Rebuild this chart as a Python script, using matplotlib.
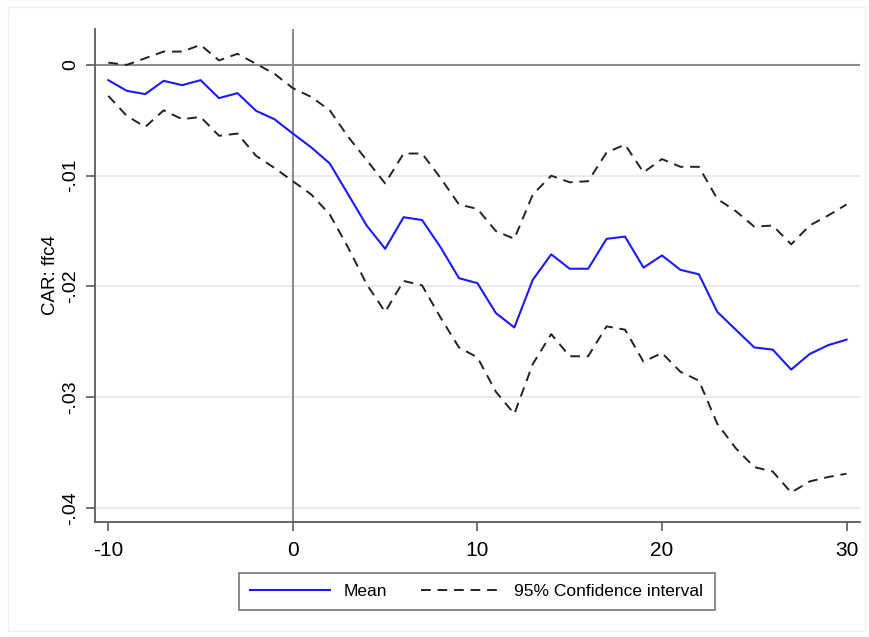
import matplotlib
matplotlib.use("Agg")
import matplotlib.pyplot as plt
from matplotlib.patches import Rectangle
import numpy as np

plt.rcParams["font.family"] = ["Liberation Sans", "DejaVu Sans"]

# event window and cumulative abnormal returns
days = np.arange(-10, 31)
car_mean = [-0.00138, -0.00234, -0.00264, -0.00144, -0.00183, -0.00138, -0.0030, -0.00255,
            -0.00414, -0.0049, -0.0062, -0.00745, -0.0089, -0.0117, -0.0145, -0.0166,
            -0.01375, -0.0140, -0.01645, -0.01925, -0.0197, -0.0224, -0.0237, -0.0194,
            -0.0171, -0.0184, -0.0184, -0.0157, -0.0155, -0.0183, -0.0172, -0.0185,
            -0.0189, -0.0223, -0.0239, -0.0255, -0.0257, -0.0275, -0.0261, -0.0253, -0.0248]
ci_upper = [0.0002, 0.0, 0.0006, 0.0012, 0.0012, 0.0018, 0.0004, 0.0010, 0.0001, -0.0008,
            -0.0021, -0.0029, -0.0041, -0.0065, -0.0086, -0.0107, -0.0080, -0.0080, -0.0102,
            -0.0126, -0.0130, -0.0150, -0.0157, -0.0117, -0.0100, -0.0106, -0.0105, -0.0079,
            -0.0072, -0.0097, -0.0085, -0.0092, -0.0092, -0.0121, -0.0132, -0.0146, -0.0145,
            -0.0162, -0.0145, -0.0136, -0.0126]
ci_lower = [-0.0028, -0.0046, -0.0056, -0.0041, -0.0049, -0.0047, -0.0064, -0.0062, -0.0082,
            -0.0093, -0.0105, -0.0117, -0.0135, -0.0165, -0.0198, -0.0223, -0.0195, -0.0199,
            -0.0228, -0.0255, -0.0264, -0.0295, -0.0315, -0.0270, -0.0243, -0.0263, -0.0263,
            -0.0236, -0.0239, -0.0268, -0.0260, -0.0277, -0.0285, -0.0324, -0.0346, -0.0363,
            -0.0367, -0.0386, -0.0376, -0.0372, -0.0369]
yticks = [0, -0.01, -0.02, -0.03, -0.04]
ytick_labels = ["0", "-.01", "-.02", "-.03", "-.04"]
xticks = [-10, 0, 10, 20, 30]

fig = plt.figure(figsize=(8.7, 6.37), dpi=100)
ax = fig.add_axes([0.109, 0.1805, 0.8795, 0.774])

# light frame around the whole graph (Stata style)
fig.patches.append(Rectangle((0.009, 0.01), 0.985, 0.979, transform=fig.transFigure,
                             fill=False, edgecolor="#f0f0f0", linewidth=1))

for t in yticks[1:]:
    ax.axhline(t, color="#e6e6e6", linewidth=1.2, zorder=0)
ax.axhline(0, color="#8c8c8c", linewidth=1.5, zorder=1)
ax.axvline(0, color="#8c8c8c", linewidth=1.5, zorder=1)

ax.plot(days, car_mean, color="#1a1aff", linewidth=1.5, label="Mean", zorder=3)
ax.plot(days, ci_upper, color="#222222", linewidth=1.4, dashes=(5, 3.5),
        label="95% Confidence interval", zorder=2)
ax.plot(days, ci_lower, color="#222222", linewidth=1.4, dashes=(5, 3.5), zorder=2)

ax.set_xlim(-10.73, 30.73)
ax.set_ylim(-0.04126, 0.00324)
ax.set_xticks(xticks)
ax.set_xticklabels([str(t) for t in xticks], fontsize=15)
ax.set_yticks(yticks)
ax.set_yticklabels(ytick_labels, fontsize=14, rotation=90, va="center")
ax.set_ylabel("CAR: ffc4", fontsize=13.5, labelpad=2)

for side in ("top", "right"):
    ax.spines[side].set_visible(False)
for side in ("left", "bottom"):
    ax.spines[side].set_color("#5a5a5a")
    ax.spines[side].set_linewidth(1.3)
ax.tick_params(direction="out", length=6.5, width=1.2, color="#5a5a5a")
ax.tick_params(axis="x", pad=7)
ax.tick_params(axis="y", pad=5)

leg = fig.legend(loc="center", bbox_to_anchor=(0.548, 0.0715), ncol=2, fontsize=12.5,
                 frameon=True, fancybox=False, handlelength=4.6, columnspacing=1.9,
                 borderpad=0.65, handletextpad=0.8)
leg.get_frame().set_edgecolor("#555555")
leg.get_frame().set_linewidth(1.2)

fig.savefig("out.png", dpi=100)
